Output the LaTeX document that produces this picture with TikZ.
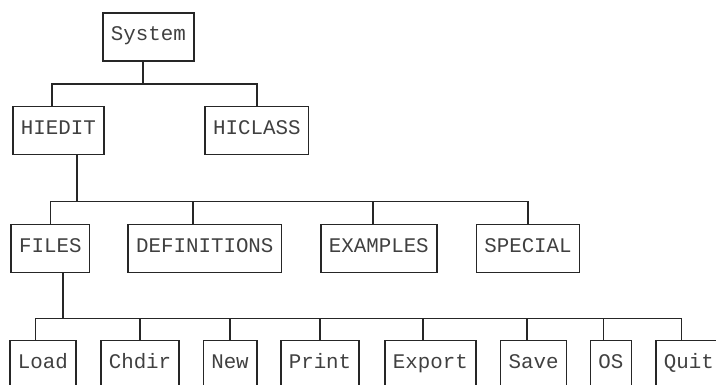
\documentclass[tikz,border=0pt]{standalone}
\usepackage{fontspec}
\setmonofont{Liberation Mono}
\usepackage{xcolor}
\usepackage{tikz}

\begin{document}
\begin{tikzpicture}[node distance=2.9cm, every node/.style={rectangle, draw=black!85, text=black!75, line width=1.1pt, minimum height=1.2cm, inner xsep=0.2cm, text height=0.5em, text depth=0pt, font=\ttfamily\fontsize{14.8}{16}\selectfont}]
    \clip (0,0) rectangle (17.9,-9.6);

    \node (system) at (3.71,-0.925) {System};
    \node (hiedit) [below of=system, xshift=-2.25cm, yshift=0.56cm] {HIEDIT};
    \node (hiclass) [below of=system, xshift=2.71cm, yshift=0.56cm] {HICLASS};

    \node (files) [below of=hiedit, xshift=-0.2cm, yshift=-0.05cm] {FILES};
    \node (definitions) [below of=hiedit, xshift=3.66cm, yshift=-0.05cm] {DEFINITIONS};
    \node (examples) [below of=hiedit, xshift=8.01cm, yshift=-0.05cm] {EXAMPLES};
    \node (special) [below of=hiedit, xshift=11.74cm, yshift=-0.05cm] {SPECIAL};

    \node (load) [below of=files, xshift=-0.19cm] {Load};
    \node (chdir) [below of=files, xshift=2.24cm] {Chdir};
    \node (new) [below of=files, xshift=4.49cm] {New};
    \node (print) [below of=files, xshift=6.74cm] {Print};
    \node (export) [below of=files, xshift=9.5cm] {Export};
    \node (save) [below of=files, xshift=12.08cm] {Save};
    \node (os) [below of=files, xshift=14.01cm] {OS};
    \node (quit) [below of=files, xshift=15.96cm] {Quit};

    % System -> HIEDIT, HICLASS
    \draw[black!85, line width=1.1pt] ([xshift=-0.14cm]system.south) -- ++(0,-0.55) coordinate (bus1);
    \draw[black!85, line width=1.1pt] ([xshift=-0.16cm]hiedit.north) |- (bus1) -| (hiclass.north);

    % HIEDIT -> second row
    \draw[black!85, line width=1.1pt] ([xshift=0.46cm]hiedit.south) -- ++(0,-1.15) coordinate (bus2);
    \draw[black!85, line width=1.1pt] (files.north) |- (bus2) -| (special.north);
    \draw[black!85, line width=1.1pt] ([xshift=-0.3cm]definitions.north) |- (bus2);
    \draw[black!85, line width=1.1pt] ([xshift=-0.15cm]examples.north) |- (bus2);

    % FILES -> menu entries
    \draw[black!85, line width=1.1pt] ([xshift=0.31cm]files.south) -- ++(0,-1.125) coordinate (bus3);
    \draw[black!85, line width=1.1pt] ([xshift=-0.18cm]load.north) |- (bus3) -| ([xshift=-0.18cm]quit.north);
    \draw[black!85, line width=1.1pt] (chdir.north) |- (bus3);
    \draw[black!85, line width=1.1pt] (new.north) |- (bus3);
    \draw[black!85, line width=1.1pt] (print.north) |- (bus3);
    \draw[black!85, line width=1.1pt] ([xshift=-0.19cm]export.north) |- (bus3);
    \draw[black!85, line width=1.1pt] ([xshift=-0.16cm]save.north) |- (bus3);
    \draw[black!85, line width=1.1pt] ([xshift=-0.18cm]os.north) |- (bus3);
\end{tikzpicture}
\end{document}
